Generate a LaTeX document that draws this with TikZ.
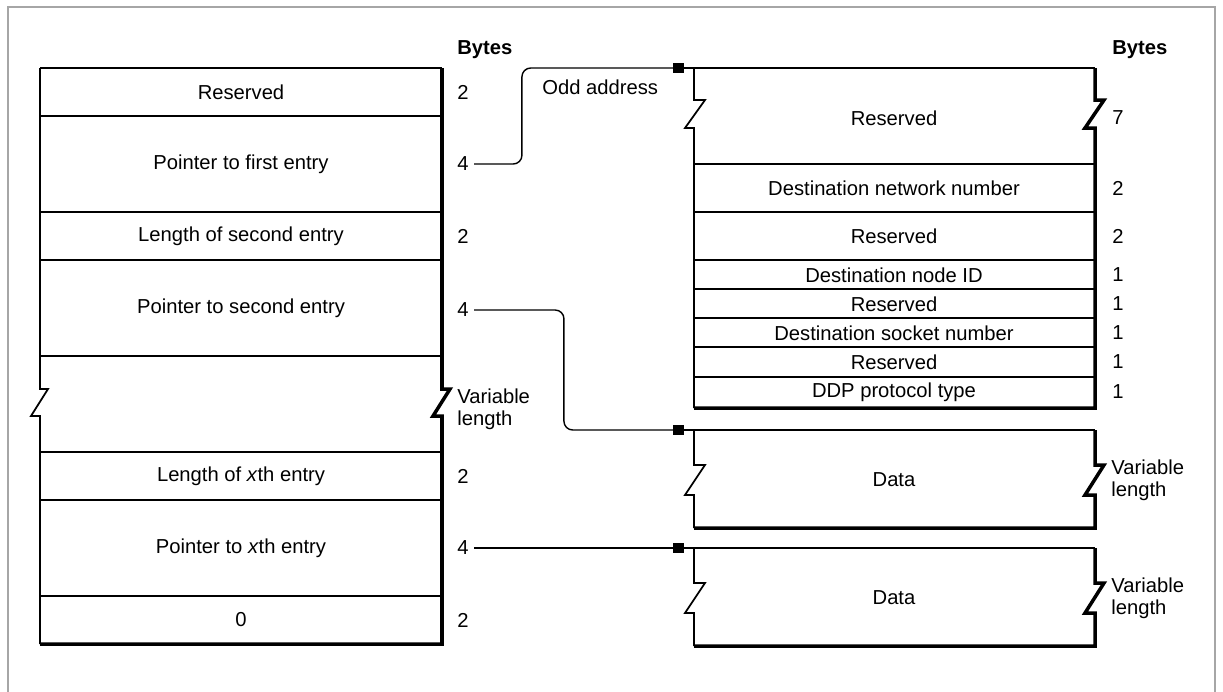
\documentclass[tikz,border=0pt]{standalone}
\usepackage{fontspec}
\setmainfont{Liberation Sans}
\usetikzlibrary{arrows.meta,positioning}

\begin{document}
\begin{tikzpicture}[x=0.02cm, y=-0.02cm, font=\fontsize{11.5}{13.5}\selectfont]
\tikzset{cell/.style={line width=1pt},
  heavy/.style={line width=2pt},
  bytes/.style={anchor=west, inner sep=0pt},
  varlen/.style={anchor=west, inner sep=0pt, align=left, font=\fontsize{11.5}{12.5}\selectfont},
  ptr/.style={line width=0.8pt, rounded corners=5, shorten <=3pt, -{Square[length=6pt,width=6pt]}}}
\useasboundingbox (0,0) rectangle (1223,691);
\draw[black!35, line width=1pt] (8,700) -- (8,7) -- (1215,7) -- (1215,700);

% left table
\draw[cell] (40,68) -- (442,68);
\foreach \y in {116,212,260,356,452,500,596} \draw[cell] (40,\y) -- (442,\y);
\draw[cell] (40,68) -- (40,389) -- (48,389) -- (31,416) -- (40,416) -- (40,644);
\draw[heavy] (442,68) -- (442,389) -- (450,389) -- (433,416) -- (442,416) -- (442,644) -- (40,644);
\node (lres) at (241,92) {Reserved};
\node (lptr1) at (241,164) {Pointer to first entry};
\node (llen2) at (241,236) {Length of second entry};
\node (lptr2) at (241,308) {Pointer to second entry};
\node (llenx) at (241,476) {Length of \textit{x}th entry};
\node (lptrx) at (241,548) {Pointer to \textit{x}th entry};
\node (lzero) at (241,620) {0};
\node[bytes, font=\fontsize{11.5}{13.5}\selectfont\bfseries] (lbytes) at (457,50) {Bytes};
\node[bytes] (lb1) at (457,92) {2};
\node[bytes] (lb2) at (457,164) {4};
\node[bytes] (lb3) at (457,236) {2};
\node[bytes] (lb4) at (457,310) {4};
\node[varlen] (lvar) at (457,409) {Variable\\length};
\node[bytes] (lb5) at (457,476) {2};
\node[bytes] (lb6) at (457,548) {4};
\node[bytes] (lb7) at (457,620) {2};

% DDP header
\coordinate (hdr) at (684,68);
\draw[cell] (hdr) -- (1095,68);
\foreach \y in {164,212,260,289,318,347,377} \draw[cell] (694,\y) -- (1095,\y);
\draw[cell] (694,68) -- (694,100) -- (705,100) -- (685,128) -- (694,128) -- (694,408);
\draw[heavy] (1095,68) -- (1095,100) -- (1104,100) -- (1085,128) -- (1095,128) -- (1095,408) -- (694,408);
\node (hres1) at (894,118) {Reserved};
\node (hnet) at (894,188) {Destination network number};
\node (hres2) at (894,236) {Reserved};
\node (hnode) at (894,275) {Destination node ID};
\node (hres3) at (894,304) {Reserved};
\node (hsock) at (894,333) {Destination socket number};
\node (hres4) at (894,362) {Reserved};
\node (htype) at (894,392) {DDP protocol type};
\node[bytes, font=\fontsize{11.5}{13.5}\selectfont\bfseries] (rbytes) at (1112,50) {Bytes};
\node[bytes] (rb1) at (1112,118) {7};
\node[bytes] (rb2) at (1112,188) {2};
\node[bytes] (rb3) at (1112,236) {2};
\node[bytes] (rb4) at (1112,275) {1};
\node[bytes] (rb5) at (1112,304) {1};
\node[bytes] (rb6) at (1112,333) {1};
\node[bytes] (rb7) at (1112,362) {1};
\node[bytes] (rb8) at (1112,392) {1};
\node[anchor=west, inner sep=0pt] (odd) at (542,87) {Odd address};

% data blocks
\foreach \y/\n in {430/1,548/2} {
  \coordinate (dat\n) at (684,\y);
  \draw[cell] (dat\n) -- (1095,\y);
  \draw[cell] (694,\y) -- (694,\y+35) -- (705,\y+35) -- (685,\y+65) -- (694,\y+65) -- (694,\y+98);
  \draw[heavy] (1095,\y) -- (1095,\y+35) -- (1104,\y+35) -- (1085,\y+65) -- (1095,\y+65) -- (1095,\y+98) -- (694,\y+98);
  \node (data\n) at (894,\y+50) {Data};
  \node[varlen] (dvar\n) at (1111,\y+50) {Variable\\length};
}

% pointers
\draw[ptr] (lb2.east) -- ++(53,0) |- (hdr);
\draw[ptr] (lb4.east) -- ++(95,0) |- (dat1);
\draw[ptr] (lb6.east) -- (dat2);
\end{tikzpicture}
\end{document}
